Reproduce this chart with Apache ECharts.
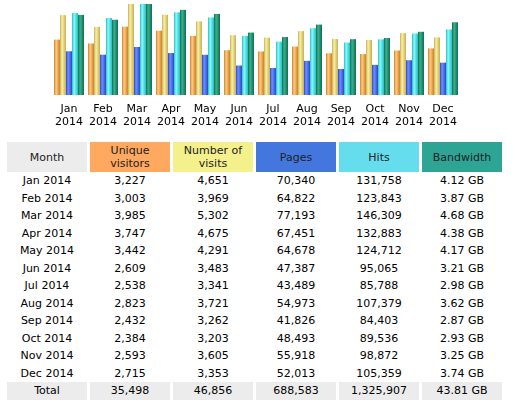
<!DOCTYPE html>
<html><head><meta charset="utf-8">
<script src="https://cdn.jsdelivr.net/npm/echarts@6/dist/echarts.min.js"></script>
<style>
body{margin:0;background:#fff;font-family:"DejaVu Sans",Verdana,sans-serif;}
#c{width:515px;height:135px;}
table{position:absolute;left:4px;top:142px;border-collapse:separate;border-spacing:3px 0;font-size:11px;color:#000;}
th{font-weight:normal;height:30px;padding:0;line-height:13px;color:#222;}
td{text-align:center;height:17.5px;padding:0;}
tr.tot td{background:#ececec;}
</style></head><body>
<div id="c"></div>
<table id="t"></table>
<script>
const months=["Jan 2014","Feb 2014","Mar 2014","Apr 2014","May 2014","Jun 2014","Jul 2014","Aug 2014","Sep 2014","Oct 2014","Nov 2014","Dec 2014"];
const visitors=[3227,3003,3985,3747,3442,2609,2538,2823,2432,2384,2593,2715];
const visits=[4651,3969,5302,4675,4291,3483,3341,3721,3262,3203,3605,3353];
const pages=[70340,64822,77193,67451,64678,47387,43489,54973,41826,48493,55918,52013];
const hits=[131758,123843,146309,132883,124712,95065,85788,107379,84403,89536,98872,105359];
const bandwidth=[4.12,3.87,4.68,4.38,4.17,3.21,2.98,3.62,2.87,2.93,3.25,3.74];
const totals=["35,498","46,856","688,583","1,325,907","43.81 GB"];
const headers=["Month","Unique<br>visitors","Number of<br>visits","Pages","Hits","Bandwidth"];
const headBg=["#ececec","#ffa860","#f4f08c","#4477dd","#66dded","#2ea495"];
const widths=[80,80,80,80,80,80];

function grad(a,b){return new echarts.graphic.LinearGradient(0,0,1,0,[{offset:0,color:b},{offset:0.35,color:a},{offset:1,color:b}]);}
const chart=echarts.init(document.getElementById('c'));
const mk=(name,data,ax,a,b)=>({name,type:'bar',data,yAxisIndex:ax,barWidth:6,barGap:'0%',itemStyle:{color:grad(a,b)},animation:false});
chart.setOption({
 animation:false,
 grid:{left:52,right:55,top:4,height:91},
 xAxis:{type:'category',data:months.map(m=>m.replace(' ','\n')),axisLine:{show:false},axisTick:{show:false},
   axisLabel:{fontFamily:'DejaVu Sans',fontSize:11,color:'#000',lineHeight:13,margin:8,interval:0}},
 yAxis:[{type:'value',min:0,max:5302,show:false},{type:'value',min:0,max:146309,show:false},{type:'value',min:0,max:4.68,show:false}],
 series:[mk('Unique visitors',visitors,0,'#ffcc88','#d08020'),mk('Number of visits',visits,0,'#f8f0a8','#c8b050'),
   mk('Pages',pages,1,'#7090ff','#2848c8'),mk('Hits',hits,1,'#90f8f8','#20c0c8'),mk('Bandwidth',bandwidth,2,'#40b090','#087050')]
});
const fmt=n=>n.toLocaleString('en-US');
let h='<tr>'+headers.map((x,i)=>`<th style="background:${headBg[i]};width:${i==0?80:80}px">${x}</th>`).join('')+'</tr>';
months.forEach((m,i)=>{h+=`<tr><td>${m}</td><td>${fmt(visitors[i])}</td><td>${fmt(visits[i])}</td><td>${fmt(pages[i])}</td><td>${fmt(hits[i])}</td><td>${bandwidth[i].toFixed(2)} GB</td></tr>`;});
h+='<tr class="tot"><td>Total</td>'+totals.map(t=>`<td>${t}</td>`).join('')+'</tr>';
document.getElementById('t').innerHTML=h;
</script></body></html>
